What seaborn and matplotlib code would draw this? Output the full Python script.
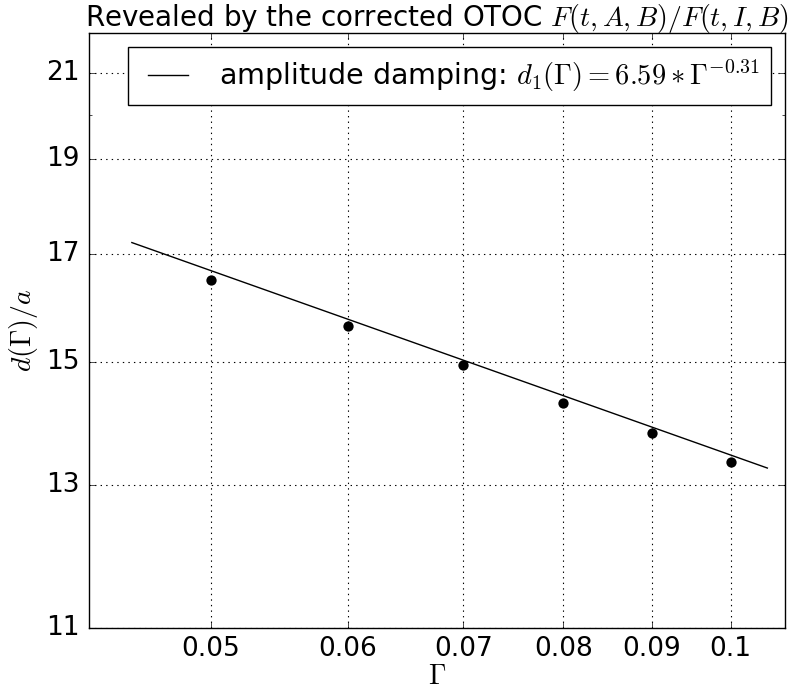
import numpy as np
import pandas as pd
import matplotlib
matplotlib.use("Agg")
import matplotlib.pyplot as plt
import seaborn as sns
from matplotlib.ticker import FixedLocator, FixedFormatter, NullFormatter

# Decay length d(Γ)/a extracted from the corrected OTOC
gamma = [0.05, 0.06, 0.07, 0.08, 0.09, 0.10]
d_over_a = [16.50, 15.64, 14.94, 14.30, 13.80, 13.35]

# Power-law fit d_1(Γ) = A * Γ^p
fit_prefactor = 6.59
fit_exponent = -0.31
fit_range = (0.045, 0.105)

x_ticks = [0.05, 0.06, 0.07, 0.08, 0.09, 0.1]
x_ticklabels = ["0.05", "0.06", "0.07", "0.08", "0.09", "0.1"]
y_ticks = [11, 13, 15, 17, 19, 21]
y_ticklabels = ["11", "13", "15", "17", "19", "21"]
y_minor_ticks = [20]

plt.style.use("classic")
plt.rcParams.update({
    "font.family": ["DejaVu Sans"],
    "mathtext.fontset": "cm",
    "figure.facecolor": "white",
    "savefig.facecolor": "white",
})

fig, ax = plt.subplots(figsize=(7.91, 6.96), dpi=100)
fig.subplots_adjust(left=0.1125, right=0.9924, bottom=0.0977, top=0.9526)

g_fit = np.geomspace(fit_range[0], fit_range[1], 60)
fit_df = pd.DataFrame({"Gamma": g_fit, "d": fit_prefactor * g_fit ** fit_exponent})
sns.lineplot(data=fit_df, x="Gamma", y="d", color="k", linewidth=1.0, ax=ax,
             label=r"amplitude damping: $d_1(\Gamma)=6.59*\Gamma^{-0.31}$")

pts_df = pd.DataFrame({"Gamma": gamma, "d": d_over_a})
sns.scatterplot(data=pts_df, x="Gamma", y="d", color="k", s=55, linewidth=0,
                ax=ax, zorder=3, legend=False)

ax.set_xscale("log")
ax.set_yscale("log")
ax.set_xlim(0.0425, 0.1075)
ax.set_ylim(11, 22)

ax.xaxis.set_major_locator(FixedLocator(x_ticks))
ax.xaxis.set_major_formatter(FixedFormatter(x_ticklabels))
ax.xaxis.set_minor_locator(FixedLocator([]))
ax.xaxis.set_minor_formatter(NullFormatter())
ax.yaxis.set_major_locator(FixedLocator(y_ticks))
ax.yaxis.set_major_formatter(FixedFormatter(y_ticklabels))
ax.yaxis.set_minor_locator(FixedLocator(y_minor_ticks))
ax.yaxis.set_minor_formatter(NullFormatter())
ax.tick_params(axis="x", which="major", labelsize=19, pad=6)
ax.tick_params(axis="y", which="major", labelsize=19, pad=7)

ax.grid(True, which="major", color="k", linestyle=":", linewidth=0.8)

ax.set_xlabel(r"$\Gamma$", fontsize=20, labelpad=0)
ax.set_ylabel(r"$d(\Gamma)/a$", fontsize=20, labelpad=4)
ax.set_title(r"Revealed by the corrected OTOC $F(t,A,B)/F(t,I,B)$", fontsize=20)

ax.legend(loc="upper right", fontsize=20.5, handlelength=2.0, handletextpad=0.8,
          borderpad=0.4, borderaxespad=0.48, fancybox=False, frameon=True)

fig.savefig("out.png", dpi=100)
